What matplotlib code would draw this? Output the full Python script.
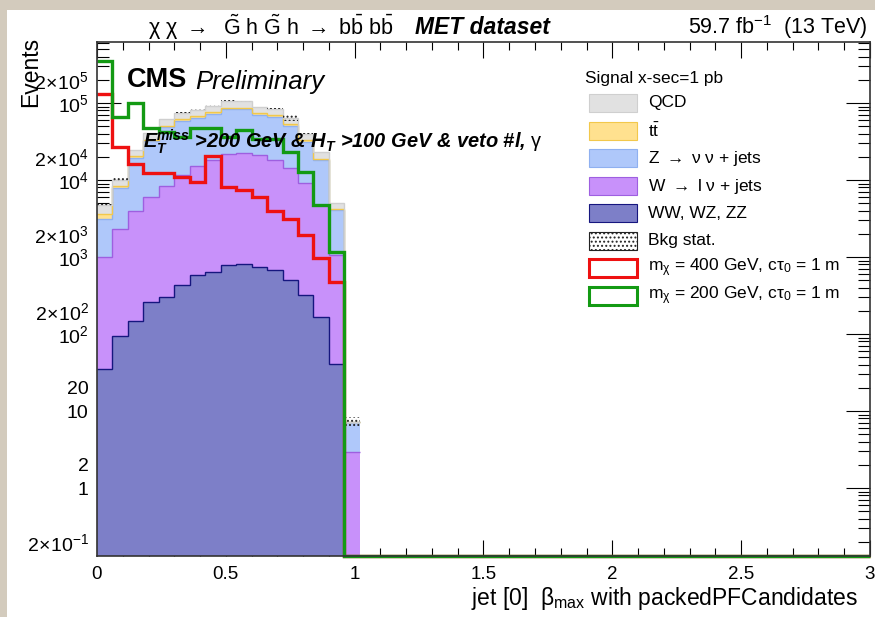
import numpy as np
import matplotlib
matplotlib.use('Agg')
import matplotlib.pyplot as plt
from matplotlib.patches import Rectangle
from matplotlib.ticker import LogLocator, MultipleLocator, FuncFormatter

plt.rcParams['font.family'] = ['Liberation Sans', 'DejaVu Sans']
plt.rcParams['mathtext.fontset'] = 'custom'
plt.rcParams['mathtext.rm'] = 'Liberation Sans'
plt.rcParams['mathtext.it'] = 'Liberation Sans:italic'
plt.rcParams['mathtext.bf'] = 'Liberation Sans:bold'
plt.rcParams['mathtext.bfit'] = 'Liberation Sans:bold:italic'
plt.rcParams['hatch.linewidth'] = 0.9

# ---------------- data ----------------
x_min, x_max, n_bins = 0.0, 3.0, 50
# background contributions for the first 17 bins (0 .. 1.02), stacked bottom -> top
bkg_ww = [35, 95, 149, 263, 305, 433, 584, 638, 787, 819, 748, 678, 502, 321, 168, 41, 0]
bkg_wlnu = [965, 2235, 3841, 5807, 8125, 11167, 14716, 17562, 20713, 21481, 20252, 17522, 13798, 8779, 4532, 1019, 2.96]
bkg_znunu = [2100, 5470, 15410, 25930, 40370, 47400, 49300, 54200, 61200, 60400, 49900, 47900, 36100, 22400, 13400, 3040, 4.3]
bkg_tt = [500, 500, 900, 1500, 2200, 2700, 2900, 3200, 3700, 3700, 3200, 3000, 2300, 1400, 800, 100, 0]
bkg_qcd = [1130, 1700, 4300, 7200, 11000, 13300, 14500, 16400, 18600, 18600, 15900, 14900, 11300, 7100, 4100, 870, 0]
bkg_stat = [100, 500, 300, 500, 700, 900, 1000, 1200, 5000, 1300, 1100, 1000, 5000, 500, 300, 80, 1.2]
sig_400 = [131000, 27000, 16100, 12300, 12300, 11000, 9500, 20600, 8100, 7400, 6100, 4000, 3100, 1930, 980, 475]
sig_200 = [351000, 65800, 100000, 47000, 42000, 36000, 47000, 47000, 36000, 45000, 34000, 34000, 23100, 12700, 4700, 1170]

y_min, y_max = 0.131, 6.2e5

labels = ['QCD', r'$\mathrm{t\bar{t}}$', r'Z $\rightarrow$ $\mathrm{\nu}$ $\mathrm{\nu}$ + jets',
          r'W $\rightarrow$ l $\mathrm{\nu}$ + jets', 'WW, WZ, ZZ', 'Bkg stat.',
          r'm$_{\mathrm{\chi}}$ = 400 GeV, c$\mathrm{\tau}_{0}$ = 1 m',
          r'm$_{\mathrm{\chi}}$ = 200 GeV, c$\mathrm{\tau}_{0}$ = 1 m']

# ---------------- styles ----------------
fills = {'qcd': '#e1e1e1', 'tt': '#ffe18f', 'z': '#afc8fa', 'w': '#c891fa', 'ww': '#7d7fc8'}
edges_c = {'qcd': '#cfcfcf', 'tt': '#f2c84b', 'z': '#8fb0f0', 'w': '#9e5fe0', 'ww': '#16167f'}
red, green = '#ee1111', '#139a13'

W, H = 875, 617
fig = plt.figure(figsize=(W / 100, H / 100), dpi=100)
fig.patch.set_facecolor('#d3cbbd')
fig.patches.append(Rectangle((7 / W, 0), 1 - 7 / W, 1 - 10 / H, transform=fig.transFigure,
                             facecolor='white', edgecolor='none', zorder=-10))


def fx(px):
    return px / W


def fy(py):
    return 1 - py / H


ax = fig.add_axes([fx(97), fy(556), (870 - 97) / W, (556 - 42) / H])
ax.set_yscale('log')
ax.set_facecolor('white')

edges = np.linspace(x_min, x_max, n_bins + 1)
nb = len(bkg_ww)
e_bkg = edges[:nb + 1]
floor = 1e-3

layers = [('ww', bkg_ww), ('w', bkg_wlnu), ('z', bkg_znunu), ('tt', bkg_tt), ('qcd', bkg_qcd)]
cum = np.zeros(nb)
for key, vals in layers:
    bottom = cum.copy()
    cum = cum + np.asarray(vals, float)
    top_d = np.maximum(cum, floor)
    bot_d = np.maximum(bottom, floor)
    ax.stairs(top_d, e_bkg, baseline=bot_d, fill=True, color=fills[key], zorder=2)
    ax.stairs(top_d, e_bkg, baseline=None, color=edges_c[key], lw=1.0, zorder=2.5)

total = cum
stat = np.asarray(bkg_stat, float)
centers = 0.5 * (e_bkg[:-1] + e_bkg[1:])
ax.bar(centers, 2 * stat, bottom=total - stat, width=np.diff(e_bkg), fill=False,
       hatch='....', edgecolor='#222222', linewidth=0, zorder=3)


def pad(v):
    a = np.zeros(n_bins)
    a[:len(v)] = v
    return np.where(a > 0, a, y_min)


ax.stairs(pad(sig_400), edges, baseline=None, color=red, lw=2.4, zorder=4, clip_on=False)
ax.stairs(pad(sig_200), edges, baseline=None, color=green, lw=2.4, zorder=5, clip_on=False)

ax.set_xlim(x_min, x_max)
ax.set_ylim(y_min, y_max)


def ylab(v, pos=None):
    if v < y_min or v > y_max:
        return ''
    e = int(np.floor(np.log10(v) + 1e-9))
    m = int(round(v / 10 ** e))
    if m not in (1, 2):
        return ''
    if e in (0, 1):
        return f'{int(round(v))}'
    if m == 1:
        return rf'$10^{{{e}}}$'
    return rf'${m}\!\times\!10^{{{e}}}$'


ax.yaxis.set_major_locator(LogLocator(base=10, numticks=30))
ax.yaxis.set_minor_locator(LogLocator(base=10, subs=np.arange(2, 10), numticks=30))
ax.yaxis.set_major_formatter(FuncFormatter(ylab))
ax.yaxis.set_minor_formatter(FuncFormatter(ylab))
ax.xaxis.set_major_locator(MultipleLocator(0.5))
ax.xaxis.set_minor_locator(MultipleLocator(0.1))
ax.xaxis.set_major_formatter(FuncFormatter(lambda v, p: f'{v:g}'))

ax.tick_params(axis='both', which='both', direction='in', top=True, right=True,
               colors='black', width=0.8)
ax.tick_params(axis='y', which='both', labelsize=14)
ax.tick_params(axis='x', which='both', labelsize=13.5)
ax.tick_params(axis='y', which='major', length=17, pad=6)
ax.tick_params(axis='y', which='minor', length=8.5, pad=6)
ax.tick_params(axis='x', which='major', length=11.5, pad=7)
ax.tick_params(axis='x', which='minor', length=5.8)
for s in ax.spines.values():
    s.set_linewidth(1.2)
    s.set_color('#333333')
    s.set_zorder(6)

# ---------------- texts ----------------
fig.text(fx(148), fy(27),
         r'$\mathrm{\chi}\ \mathrm{\chi}\ \rightarrow\ \ \tilde{\mathrm{G}}\ \mathrm{h}\ \tilde{\mathrm{G}}\ \mathrm{h}\ \rightarrow\ \mathrm{b\bar{b}}\ \mathrm{b\bar{b}}$',
         fontsize=15.5, ha='left', va='center')
fig.text(fx(415), fy(27), 'MET dataset', fontsize=16.5, fontweight='bold', style='italic',
         ha='left', va='center')
fig.text(fx(868), fy(27), r'59.7 fb$^{-1}$  (13 TeV)', fontsize=15.5, ha='right', va='center')

fig.text(fx(127), fy(80), 'CMS', fontsize=19.5, fontweight='bold', ha='left', va='center')
fig.text(fx(195), fy(82), 'Preliminary', fontsize=18.5, style='italic', ha='left', va='center')

fig.text(fx(143), fy(142),
         r'$\mathbfit{E}_{\mathbfit{T}}^{\mathbfit{miss}}$ >200 GeV & $\mathbfit{H}_{\mathbfit{T}}$ >100 GeV & veto #l, $\mathrm{\gamma}$',
         fontsize=14.4, fontweight='bold', style='italic', ha='left', va='center')

fig.text(fx(31), fy(37), 'Events', fontsize=16.5, rotation=90, ha='center', va='top')
fig.text(fx(858), fy(598), r'jet [0]  $\mathrm{\beta}_{\mathrm{max}}$ with packedPFCandidates', fontsize=16.5,
         ha='right', va='center')

# ---------------- legend ----------------
fig.text(fx(585), fy(78), 'Signal x-sec=1 pb', fontsize=12.4, ha='left', va='center')
row_y = [103, 131, 158, 186, 213, 241, 268, 296]
box_style = [
    dict(facecolor=fills['qcd'], edgecolor=edges_c['qcd'], lw=0.8),
    dict(facecolor=fills['tt'], edgecolor=edges_c['tt'], lw=0.8),
    dict(facecolor=fills['z'], edgecolor=edges_c['z'], lw=0.8),
    dict(facecolor=fills['w'], edgecolor=edges_c['w'], lw=0.8),
    dict(facecolor=fills['ww'], edgecolor=edges_c['ww'], lw=0.8),
    dict(facecolor='white', edgecolor='#222222', lw=0.8, hatch='....'),
    dict(facecolor='white', edgecolor=red, lw=2.2),
    dict(facecolor='white', edgecolor=green, lw=2.2),
]
for yy, lab, st in zip(row_y, labels, box_style):
    fig.patches.append(Rectangle((fx(589), fy(yy + 9)), 48 / W, 18 / H, transform=fig.transFigure, **st))
    fig.text(fx(648), fy(yy), lab, fontsize=12.5, ha='left', va='center')

fig.savefig('out.png', dpi=100, facecolor=fig.get_facecolor())
